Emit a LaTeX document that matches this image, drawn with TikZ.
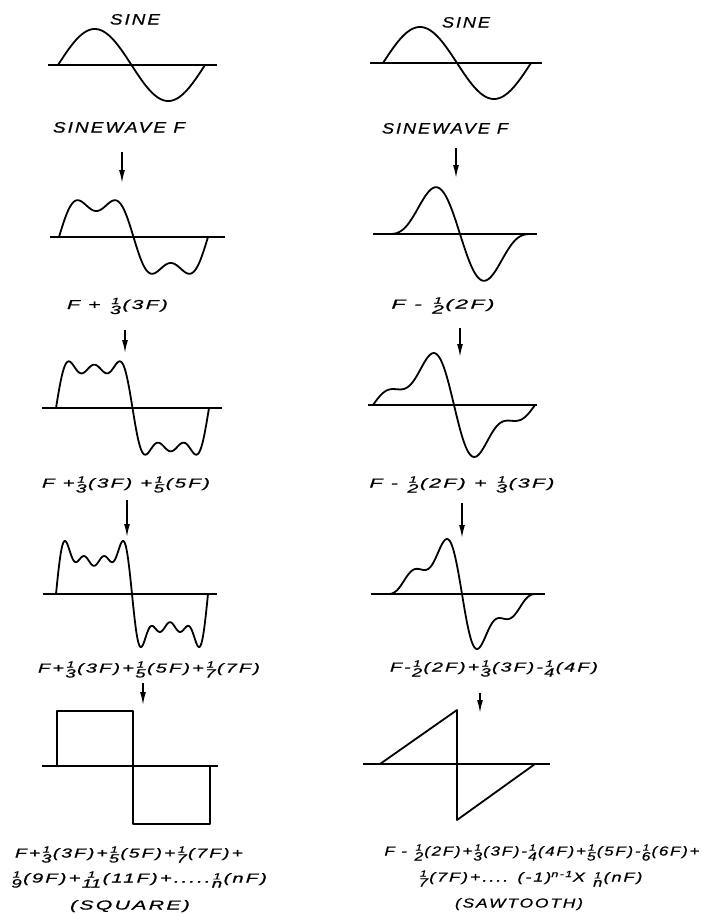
\documentclass[tikz,border=0pt]{standalone}
\usepackage{fontspec}
\usepackage{graphicx}
\setmainfont{Liberation Sans}
\newfontfamily\hand[FakeStretch=1.15, LetterSpace=12, FakeBold=0.7]{Liberation Sans}
\usetikzlibrary{arrows.meta}
% hand-style stacked fraction without bar: small numerator over a full-size denominator
\newcommand\fr[2]{\leavevmode\kern1pt\raisebox{-5pt}{\vbox{\offinterlineskip\addfontfeature{LetterSpace=0}%
  \halign{\hfil##\hfil\cr\fontsize{9}{9}\selectfont #1\cr\noalign{\kern1.6pt}\fontsize{12}{12}\selectfont #2\cr}}}\kern1pt}
% fit a text to a given width (horizontal scaling only)
\newcommand\fitw[2]{\resizebox{#1pt}{\height}{#2}}
\tikzset{
  wave/.style={line width=1.8pt, line join=round, line cap=round},
  axisline/.style={line width=1.6pt},
  lbl/.style={font=\hand\itshape\fontsize{13}{15}\selectfont, inner sep=0pt, anchor=base},
  ttl/.style={font=\hand\itshape\fontsize{15}{17}\selectfont, inner sep=0pt, anchor=base},
  arr/.style={line width=1.6pt, -{Latex[length=13pt,width=6pt]}},
}
\begin{document}
\begin{tikzpicture}[x=1pt,y=-1pt]
\useasboundingbox (0,0) rectangle (703,914);
% ================= LEFT COLUMN (square) =================
\node[ttl] (lsine) at (135,24.5) {\fitw{50}{SINE}};
\draw[axisline] (48,65) -- (217,65);
\draw[wave] plot[domain=0:2*pi, samples=150, variable=\t] ({58+147*\t/(2*pi)}, {65-36*sin(deg(\t))});
\node[ttl] (lsw) at (119,132.5) {\fitw{132}{SINEWAVE F}};
\coordinate (la1s) at (122,152); \coordinate (la1e) at (122,183);
\draw[arr] (la1s) -- (la1e);
% wave 2
\draw[axisline] (50,237) -- (225,237);
\draw[wave] plot[domain=0:2*pi, samples=200, variable=\t] ({59+149*\t/(2*pi)}, {237-39*(sin(deg(\t))+sin(deg(3*\t))/3)});
\node[lbl] (l2) at (117.5,309) {\fitw{101}{F + \fr{1}{3}(3F)}};
\coordinate (la2s) at (125,330); \coordinate (la2e) at (125,353);
\draw[arr] (la2s) -- (la2e);
% wave 3
\draw[axisline] (42,408) -- (222,408);
\draw[wave] plot[domain=0:2*pi, samples=250, variable=\t] ({56+153*\t/(2*pi)}, {408-50*(sin(deg(\t))+sin(deg(3*\t))/3+sin(deg(5*\t))/5)});
\node[lbl] (l3) at (126,487.5) {\fitw{168}{F +\fr{1}{3}(3F) +\fr{1}{5}(5F)}};
\coordinate (la3s) at (127,500); \coordinate (la3e) at (127,537);
\draw[arr] (la3s) -- (la3e);
% wave 4
\draw[axisline] (43,594) -- (217,594);
\draw[wave] plot[domain=0:2*pi, samples=300, variable=\t] ({56+152*\t/(2*pi)}, {594-46*(sin(deg(\t))+1.4*(sin(deg(3*\t))/3+sin(deg(5*\t))/5+sin(deg(7*\t))/7))});
\node[lbl] (l4) at (149,672.5) {\fitw{222}{F+\fr{1}{3}(3F)+\fr{1}{5}(5F)+\fr{1}{7}(7F)}};
\coordinate (la4s) at (143,683); \coordinate (la4e) at (143,705);
\draw[arr] (la4s) -- (la4e);
% square
\draw[axisline] (42,766) -- (218,766);
\draw[wave] (57,766) -- (57,711) -- (133,711) -- (133,824) -- (210,824) -- (210,766);
\node[lbl] (sq1) at (129,857.5) {\fitw{228}{F+\fr{1}{3}(3F)+\fr{1}{5}(5F)+\fr{1}{7}(7F)+}};
\node[lbl] (sq2) at (138.5,882.5) {\fitw{257}{\fr{1}{9}(9F)+\fr{1}{11}(11F)+.....\fr{1}{n}(nF)}};
\node[lbl] (sq3) at (130,909.5) {\fitw{120}{(SQUARE)}};
% ================= RIGHT COLUMN (sawtooth) =================
\node[ttl] (rsine) at (466,27.5) {\fitw{48}{SINE}};
\draw[axisline] (370,63) -- (542,63);
\draw[wave] plot[domain=0:2*pi, samples=150, variable=\t] ({383+148*\t/(2*pi)}, {63-36*sin(deg(\t))});
\node[ttl] (rsw) at (445,133.5) {\fitw{126}{SINEWAVE F}};
\coordinate (ra1s) at (456,148); \coordinate (ra1e) at (456,178);
\draw[arr] (ra1s) -- (ra1e);
% wave 2
\draw[axisline] (373,234) -- (537,234);
\draw[wave] plot[domain=0:2*pi, samples=200, variable=\t] ({388+144*\t/(2*pi)}, {234-36*(sin(deg(\t))-sin(deg(2*\t))/2)});
\node[lbl] (r2) at (443,308.5) {\fitw{103}{F - \fr{1}{2}(2F)}};
\coordinate (ra2s) at (460,328); \coordinate (ra2e) at (460,357);
\draw[arr] (ra2s) -- (ra2e);
% wave 3
\draw[axisline] (368,405) -- (537,405);
\draw[wave] plot[domain=0:2*pi, samples=250, variable=\t] ({373+162*\t/(2*pi)}, {405-36*(sin(deg(\t))-sin(deg(2*\t))/2+sin(deg(3*\t))/3)});
\node[lbl] (r3) at (462,487.5) {\fitw{185}{F - \fr{1}{2}(2F) + \fr{1}{3}(3F)}};
\coordinate (ra3s) at (462,503); \coordinate (ra3e) at (462,538);
\draw[arr] (ra3s) -- (ra3e);
% wave 4
\draw[axisline] (371,594) -- (545,594);
\draw[wave] plot[domain=0:2*pi, samples=300, variable=\t] ({387+150*\t/(2*pi)}, {594-36*(sin(deg(\t))-sin(deg(2*\t))/2+sin(deg(3*\t))/3-sin(deg(4*\t))/4)});
\node[lbl] (r4) at (494,671.5) {\fitw{208}{F-\fr{1}{2}(2F)+\fr{1}{3}(3F)-\fr{1}{4}(4F)}};
\coordinate (ra4s) at (480,693); \coordinate (ra4e) at (480,713);
\draw[arr] (ra4s) -- (ra4e);
% sawtooth
\draw[axisline] (363,764) -- (550,764);
\draw[wave] (380,764) -- (457,710) -- (457,820) -- (535,764);
\node[lbl] (st1) at (542,855.5) {\fitw{315}{F - \fr{1}{2}(2F)+\fr{1}{3}(3F)-\fr{1}{4}(4F)+\fr{1}{5}(5F)-\fr{1}{6}(6F)+}};
\node[lbl] (st2) at (530,881.5) {\fitw{225}{\fr{1}{7} (7F)+.... (-1)\textsuperscript{n-1}X \fr{1}{n}(nF)}};
\node[lbl] (st3) at (519,907.5) {\fitw{128}{(SAWTOOTH)}};
\end{tikzpicture}
\end{document}
